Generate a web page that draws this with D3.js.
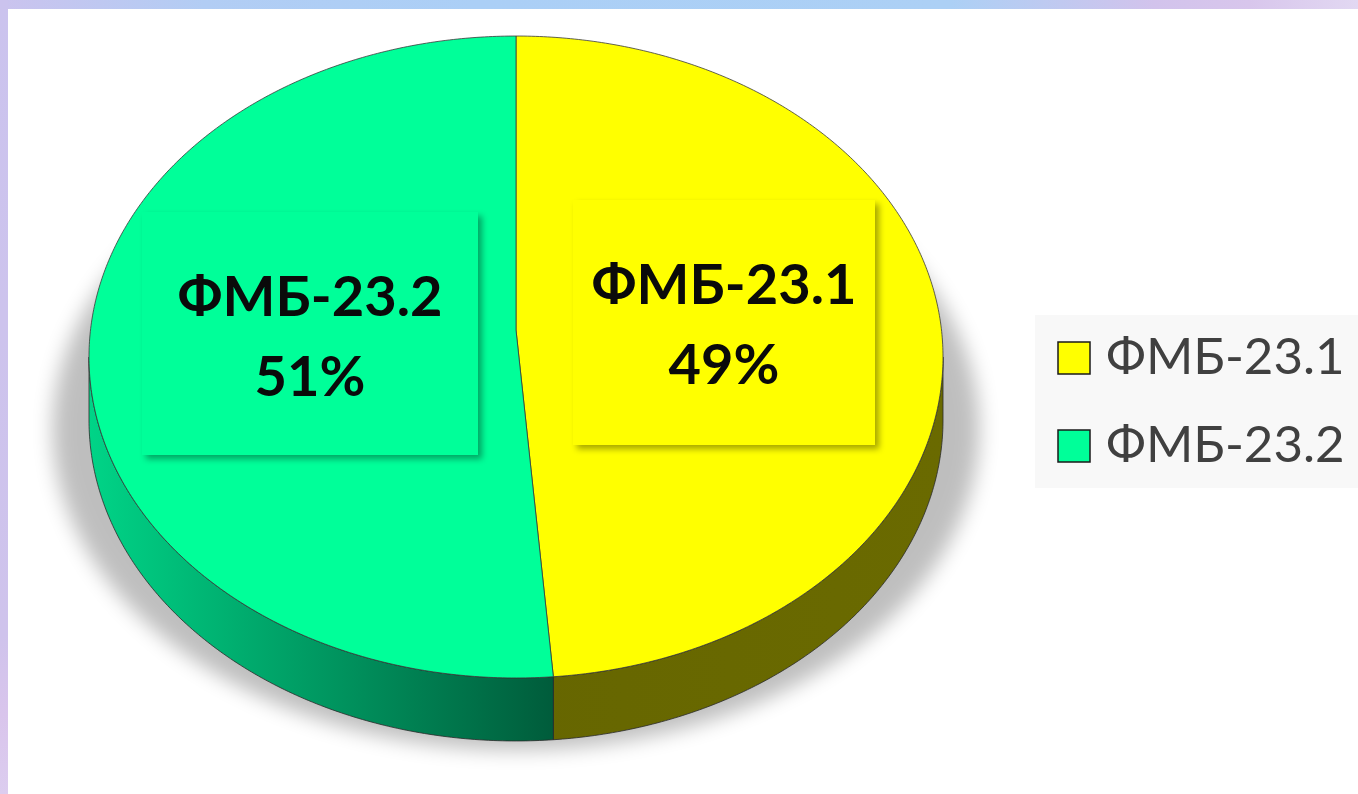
<!DOCTYPE html>
<html>
<head>
<meta charset="utf-8">
<script src="https://cdn.jsdelivr.net/npm/d3@7"></script>
<style>
  html, body { margin: 0; padding: 0; background: #fff; }
  svg { display: block; }
</style>
</head>
<body>
<svg id="chart" width="1358" height="794"></svg>
<script>
// ---- data ----
const categories = ["ФМБ-23.1", "ФМБ-23.2"];
const values = [19, 20];
const topColors = ["#ffff00", "#00ff99"];
const sideColorsLight = ["#6a6a00", "#00d487"];
const sideColorsDark = ["#626200", "#005c3b"];

// ---- layout ----
const W = 1358, H = 794;
const cx = 516, cy = 330, A = 425.5, B = 318.7, k = 0.0841, depth = 63;

const svg = d3.select("#chart");
const defs = svg.append("defs");

// frame gradients
const gTop = defs.append("linearGradient").attr("id", "gTop").attr("x1", 0).attr("x2", 1).attr("y1", 0).attr("y2", 0);
[[0, "#cbc3ee"], [0.15, "#b2cdf4"], [0.35, "#abcff6"], [0.7, "#acd0f5"], [0.85, "#d2c3ec"], [0.92, "#d8c6ec"], [1, "#e2d8f2"]]
  .forEach(([o, c]) => gTop.append("stop").attr("offset", o).attr("stop-color", c));
const gLeft = defs.append("linearGradient").attr("id", "gLeft").attr("x1", 0).attr("x2", 0).attr("y1", 0).attr("y2", 1);
[[0, "#cbc3ee"], [0.8, "#cfc3ec"], [0.9, "#d9c5ec"], [1, "#dccdef"]]
  .forEach(([o, c]) => gLeft.append("stop").attr("offset", o).attr("stop-color", c));

svg.append("rect").attr("x", 0).attr("y", 0).attr("width", W).attr("height", 9).attr("fill", "url(#gTop)");
svg.append("rect").attr("x", 0).attr("y", 0).attr("width", 8).attr("height", H).attr("fill", "url(#gLeft)");

// filters
const blur = defs.append("filter").attr("id", "pieShadow").attr("x", "-20%").attr("y", "-20%").attr("width", "140%").attr("height", "140%");
blur.append("feGaussianBlur").attr("stdDeviation", 10);
const ds = defs.append("filter").attr("id", "boxShadow").attr("x", "-10%").attr("y", "-10%").attr("width", "130%").attr("height", "130%");
ds.append("feDropShadow").attr("dx", 4).attr("dy", 4).attr("stdDeviation", 3).attr("flood-color", "#000").attr("flood-opacity", 0.35);

// perspective projection of a point on the rim (angle clockwise from top)
function proj(theta, r = 1) {
  const u = r * Math.sin(theta), v = -r * Math.cos(theta);
  const w = 1 - k * v;
  return [cx + A * u / w, cy + B * v / w];
}
function rimPoints(a0, a1, dy = 0) {
  const n = Math.max(2, Math.ceil(Math.abs(a1 - a0) / 0.01));
  const pts = [];
  for (let i = 0; i <= n; i++) {
    const p = proj(a0 + (a1 - a0) * i / n);
    pts.push([p[0], p[1] + dy]);
  }
  return pts;
}
const line = d3.line();

// find silhouette angles (extreme x)
let thR = Math.PI / 2, thL = 3 * Math.PI / 2, maxX = -Infinity, minX = Infinity;
for (let t = 0; t < 2 * Math.PI; t += 0.0005) {
  const p = proj(t);
  if (p[0] > maxX) { maxX = p[0]; thR = t; }
  if (p[0] < minX) { minX = p[0]; thL = t; }
}

const pie = d3.pie().sort(null).value(d => d)(values);
const total = d3.sum(values);

// pie shadow
const shadowPts = rimPoints(0, 2 * Math.PI).map(([x, y]) => [cx + (x - cx) * 1.085, y + 72]);
svg.append("path").attr("d", line(shadowPts) + "Z").attr("fill", "#000").attr("opacity", 0.25).attr("filter", "url(#pieShadow)");

// side gradients
pie.forEach((s, i) => {
  const g = defs.append("linearGradient").attr("id", "side" + i).attr("gradientUnits", "userSpaceOnUse")
    .attr("x1", minX).attr("x2", maxX).attr("y1", 0).attr("y2", 0);
  if (i === 1) {
    g.append("stop").attr("offset", 0).attr("stop-color", sideColorsLight[i]);
    g.append("stop").attr("offset", (proj(s.startAngle)[0] - minX) / (maxX - minX)).attr("stop-color", sideColorsDark[i]);
  } else {
    g.append("stop").attr("offset", 0).attr("stop-color", sideColorsDark[i]);
    g.append("stop").attr("offset", 1).attr("stop-color", sideColorsLight[i]);
  }
});

// sides
pie.forEach((s, i) => {
  const a0 = Math.max(s.startAngle, thR), a1 = Math.min(s.endAngle, thL);
  if (a1 <= a0) return;
  const topArc = rimPoints(a0, a1);
  const botArc = rimPoints(a1, a0, depth);
  svg.append("path").attr("d", line(topArc.concat(botArc)) + "Z")
    .attr("fill", "url(#side" + i + ")").attr("stroke", "#2a2a2a").attr("stroke-width", 0.8).attr("stroke-linejoin", "round");
});

// top faces
const ctr = proj(0, 0);
pie.forEach((s, i) => {
  const pts = [ctr].concat(rimPoints(s.startAngle, s.endAngle));
  svg.append("path").attr("d", line(pts) + "Z")
    .attr("fill", topColors[i]).attr("stroke", "#3a3a3a").attr("stroke-width", 0.8).attr("stroke-linejoin", "round");
});

// data labels
const labelBoxes = [
  { x: 573, y: 200, w: 302, h: 245 },
  { x: 142, y: 212, w: 336, h: 243 }
];
pie.forEach((s, i) => {
  const b = labelBoxes[i];
  svg.append("rect").attr("x", b.x).attr("y", b.y).attr("width", b.w).attr("height", b.h)
    .attr("fill", topColors[i]).attr("filter", "url(#boxShadow)");
  const pct = Math.round(s.value / total * 100) + "%";
  const t = svg.append("text").attr("text-anchor", "middle")
    .attr("font-family", "Lato, 'Open Sans', sans-serif").attr("font-weight", "bold")
    .attr("font-size", 56).attr("fill", "#0a0a0a");
  t.append("tspan").attr("x", b.x + b.w / 2).attr("y", b.y + 104).text(categories[i]);
  t.append("tspan").attr("x", b.x + b.w / 2).attr("y", b.y + 184).text(pct);
});

// legend
svg.append("rect").attr("x", 1035).attr("y", 315).attr("width", 323).attr("height", 173).attr("fill", "#f8f8f8");
const legendY = d3.scalePoint().domain(categories).range([374, 462]);
categories.forEach((c, i) => {
  const y = legendY(c);
  svg.append("rect").attr("x", 1058).attr("y", y - 32).attr("width", 32).attr("height", 32)
    .attr("fill", topColors[i]).attr("stroke", "#1a1a1a").attr("stroke-width", 1.5);
  svg.append("text").attr("x", 1106).attr("y", y).attr("font-family", "Lato, 'Open Sans', sans-serif")
    .attr("font-size", 51).attr("fill", "#404040").text(c);
});
</script>
</body>
</html>
